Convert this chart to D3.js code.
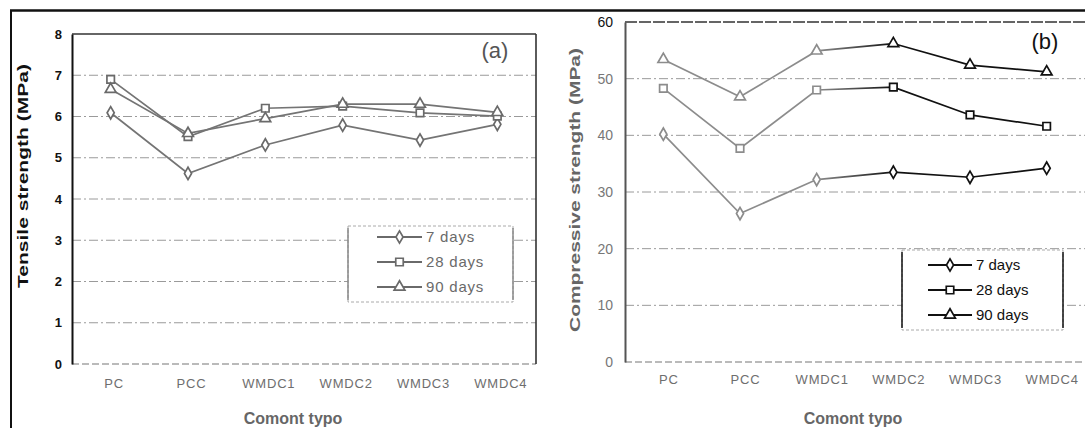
<!DOCTYPE html>
<html>
<head>
<meta charset="utf-8">
<script src="https://cdn.jsdelivr.net/npm/d3@7"></script>
<style>
  body { margin: 0; background: #fff; }
  svg { display: block; font-family: "Liberation Sans", Arial, sans-serif; }
</style>
</head>
<body>
<script>
// Cement types on the x axis, curing ages in the legend
const categories = ["PC", "PCC", "WMDC1", "WMDC2", "WMDC3", "WMDC4"];
const ages = ["7 days", "28 days", "90 days"];

// (a) tensile strength, MPa
const tensile7 = [6.09, 4.62, 5.31, 5.79, 5.43, 5.81];
const tensile28 = [6.90, 5.51, 6.20, 6.25, 6.09, 6.01];
const tensile90 = [6.66, 5.59, 5.95, 6.30, 6.30, 6.10];
const tensileTicks = [0, 1, 2, 3, 4, 5, 6, 7, 8];

// (b) compressive strength, MPa
const comp7 = [40.2, 26.2, 32.2, 33.5, 32.6, 34.2];
const comp28 = [48.3, 37.7, 48.0, 48.5, 43.6, 41.6];
const comp90 = [53.4, 46.8, 54.9, 56.2, 52.4, 51.2];
const compTicks = [0, 10, 20, 30, 40, 50, 60];

const W = 1085, H = 428;
const symbols = [d3.symbolDiamond, d3.symbolSquare, d3.symbolTriangle];
const symbolSize = [44, 56, 50];

const svg = d3.select("body").append("svg")
    .attr("width", W)
    .attr("height", H);

// Outer frame of the scanned figure
svg.append("line").attr("x1", 10).attr("x2", W).attr("y1", 10.5).attr("y2", 10.5)
    .attr("stroke", "#111").attr("stroke-width", 2.5);
svg.append("line").attr("x1", 11).attr("x2", 11).attr("y1", 10).attr("y2", H)
    .attr("stroke", "#111").attr("stroke-width", 2);

function drawPanel(p) {
    const g = svg.append("g");

    const x = d3.scalePoint().domain(categories)
        .range([p.left, p.right]).padding(0.5);
    const y = d3.scaleLinear().domain(p.domain).range([p.bottom, p.top]);

    // grid lines (dash-dot)
    g.selectAll(".grid").data(p.ticks.slice(1, -1)).join("line")
        .attr("x1", p.left).attr("x2", p.right)
        .attr("y1", d => y(d)).attr("y2", d => y(d))
        .attr("stroke", "#9a9a9a").attr("stroke-width", 1)
        .attr("stroke-dasharray", "9,3,2,3");

    // top and bottom of the plot area
    g.append("line").attr("x1", p.left).attr("x2", p.right)
        .attr("y1", y(p.domain[1])).attr("y2", y(p.domain[1]))
        .attr("stroke", "#333").attr("stroke-width", 1.4)
        .attr("stroke-dasharray", p.topDash);
    g.append("line").attr("x1", p.left).attr("x2", p.right)
        .attr("y1", y(0)).attr("y2", y(0))
        .attr("stroke", "#777").attr("stroke-width", 1.2)
        .attr("stroke-dasharray", "7,3");

    // left axis and tick labels
    const yAxis = d3.axisLeft(y).tickValues(p.ticks).tickSize(0).tickPadding(p.tickPad);
    const ya = g.append("g").attr("transform", `translate(${p.left},0)`).call(yAxis);
    ya.select(".domain").attr("stroke", p.axisColor).attr("stroke-width", 2);
    ya.selectAll("text")
        .attr("font-size", p.yTickSize)
        .attr("font-weight", p.yTickWeight)
        .attr("fill", (d, i) => i === p.ticks.length - 1 ? "#111" : p.yTickColor);

    if (p.rightBorder) {
        g.append("line").attr("x1", p.right).attr("x2", p.right)
            .attr("y1", p.top).attr("y2", p.bottom)
            .attr("stroke", "#333").attr("stroke-width", 1.6);
    }

    // x tick labels
    const xAxis = d3.axisBottom(x).tickSize(0).tickPadding(p.xTickPad);
    const xa = g.append("g").attr("transform", `translate(0,${p.bottom})`).call(xAxis);
    xa.select(".domain").remove();
    xa.selectAll("text")
        .attr("font-size", 13).attr("fill", "#6e6e6e")
        .attr("letter-spacing", 0.8)
        .attr("dx", p.xTickDx);

    // axis titles
    g.append("text")
        .attr("x", p.xTitleX).attr("y", p.xTitleY)
        .attr("text-anchor", "middle")
        .attr("font-size", 16).attr("font-weight", "bold").attr("fill", "#666")
        .text("Comont typo");
    g.append("text")
        .attr("transform", `translate(${p.yTitleX},${p.yTitleY}) rotate(-90)`)
        .attr("text-anchor", "middle")
        .attr("font-size", 15).attr("font-weight", "bold").attr("fill", p.yTitleColor)
        .attr("textLength", p.yTitleLen).attr("lengthAdjust", "spacingAndGlyphs")
        .text(p.yTitle);

    // panel tag
    g.append("text")
        .attr("x", p.tagX).attr("y", p.tagY)
        .attr("text-anchor", "middle")
        .attr("font-size", 22).attr("fill", p.tagColor)
        .text(p.tag);

    // series
    const line = d3.line().x((d, i) => x(categories[i])).y(d => y(d));
    p.series.forEach((vals, k) => {
        g.append("path").datum(vals)
            .attr("d", line)
            .attr("fill", "none")
            .attr("stroke", p.lineStroke)
            .attr("stroke-width", 1.7);
        g.selectAll(null).data(vals).join("path")
            .attr("transform", (d, i) => `translate(${x(categories[i])},${y(d)})`)
            .attr("d", d3.symbol(symbols[k], symbolSize[k]))
            .attr("fill", "#fff")
            .attr("stroke", (d, i) => p.markColor(x(categories[i])))
            .attr("stroke-width", 1.7);
    });

    // legend
    const L = p.legend;
    g.append("rect")
        .attr("x", L.x).attr("y", L.y).attr("width", L.w).attr("height", L.h)
        .attr("fill", "#fff").attr("stroke", "#aaa").attr("stroke-width", 1)
        .attr("stroke-dasharray", "3,2");
    [L.x, L.x + L.w].forEach(xx => {
        g.append("line").attr("x1", xx).attr("x2", xx)
            .attr("y1", L.y + 2).attr("y2", L.y + L.h - 2)
            .attr("stroke", L.sideColor).attr("stroke-width", 1.5);
    });
    ages.forEach((a, k) => {
        const yy = L.y + L.row0 + k * L.rowH;
        g.append("line").attr("x1", L.lx1).attr("x2", L.lx2)
            .attr("y1", yy).attr("y2", yy)
            .attr("stroke", L.color).attr("stroke-width", 1.8);
        g.append("path")
            .attr("transform", `translate(${(L.lx1 + L.lx2) / 2},${yy})`)
            .attr("d", d3.symbol(symbols[k], symbolSize[k]))
            .attr("fill", "#fff").attr("stroke", L.color).attr("stroke-width", 1.7);
        g.append("text")
            .attr("x", L.lx2 + 4).attr("y", yy + 5)
            .attr("font-size", 15).attr("fill", L.color)
            .attr("letter-spacing", L.spacing)
            .text(a);
    });

    return { x, y };
}

// (a) Tensile strength
drawPanel({
    left: 72, right: 536, top: 34, bottom: 364,
    domain: [0, 8], ticks: tensileTicks,
    series: [tensile7, tensile28, tensile90],
    topDash: null, rightBorder: true, axisColor: "#111",
    tickPad: 10, yTickSize: 13, yTickWeight: "bold", yTickColor: "#111",
    xTickPad: 15, xTickDx: 3,
    xTitleX: 293, xTitleY: 424,
    yTitle: "Tensile strength (MPa)", yTitleX: 28, yTitleY: 176, yTitleLen: 224, yTitleColor: "#111",
    tag: "(a)", tagX: 495, tagY: 58, tagColor: "#555",
    lineStroke: "#747474", markColor: () => "#6a6a6a",
    legend: { x: 348, y: 226, w: 165, h: 76, row0: 11, rowH: 25,
              lx1: 377, lx2: 422, color: "#6a6a6a", sideColor: "#888", spacing: 0.8 }
});

// (b) Compressive strength: scan goes from grey on the left to black on the right
const shade = d3.scaleLinear().domain([817, 893]).range(["#8c8c8c", "#111"]).clamp(true);
const defs = svg.append("defs");
const grad = defs.append("linearGradient").attr("id", "fadeB")
    .attr("gradientUnits", "userSpaceOnUse")
    .attr("x1", 817).attr("x2", 893).attr("y1", 0).attr("y2", 0);
grad.append("stop").attr("offset", 0).attr("stop-color", "#8c8c8c");
grad.append("stop").attr("offset", 1).attr("stop-color", "#111");

drawPanel({
    left: 625, right: 1085, top: 22, bottom: 362,
    domain: [0, 60], ticks: compTicks,
    series: [comp7, comp28, comp90],
    topDash: "12,2", rightBorder: false, axisColor: "#555",
    tickPad: 12, yTickSize: 14, yTickWeight: "normal", yTickColor: "#777",
    xTickPad: 13, xTickDx: 5,
    xTitleX: 853, xTitleY: 424,
    yTitle: "Compressive strength (MPa)", yTitleX: 580, yTitleY: 190, yTitleLen: 284, yTitleColor: "#666",
    tag: "(b)", tagX: 1045, tagY: 49, tagColor: "#111",
    lineStroke: "url(#fadeB)", markColor: shade,
    legend: { x: 902, y: 250, w: 161, h: 80, row0: 15, rowH: 25,
              lx1: 928, lx2: 972, color: "#111", sideColor: "#111", spacing: 0 }
});
</script>
</body>
</html>
